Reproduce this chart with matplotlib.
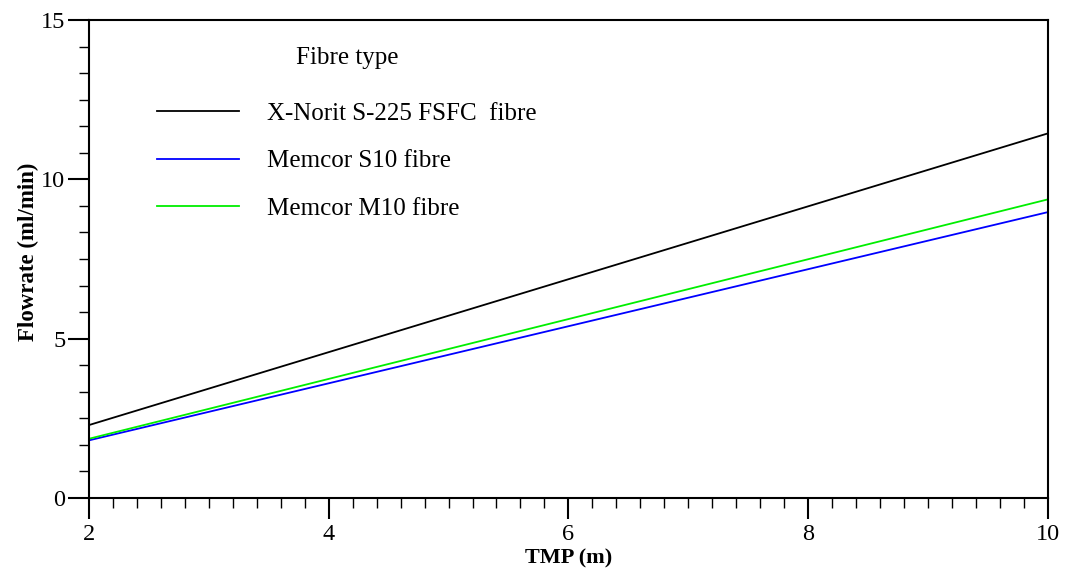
import matplotlib
matplotlib.use("Agg")
import matplotlib.pyplot as plt
from matplotlib.ticker import MultipleLocator

plt.rcParams['font.family'] = ['Liberation Serif', 'DejaVu Serif']

# Flowrate vs TMP, linear fits for each fibre type
tmp = [2, 10]
series_names = ["X-Norit S-225 FSFC  fibre", "Memcor S10 fibre", "Memcor M10 fibre"]
norit_flow = [2.29, 11.44]
memcor_s10_flow = [1.81, 8.97]
memcor_m10_flow = [1.86, 9.37]
colors = ["#000000", "#0000ff", "#00ee00"]

fig = plt.figure(figsize=(10.65, 5.71), dpi=100)
ax = fig.add_axes([0.0836, 0.1278, 0.9002, 0.8372])

for name, ys, c in zip(series_names, [norit_flow, memcor_s10_flow, memcor_m10_flow], colors):
    ax.plot(tmp, ys, color=c, lw=1.3, label=name)

ax.set_xlim(2, 10)
ax.set_ylim(0, 15)
ax.xaxis.set_major_locator(MultipleLocator(2))
ax.xaxis.set_minor_locator(MultipleLocator(0.2))
ax.yaxis.set_major_locator(MultipleLocator(5))
ax.yaxis.set_minor_locator(MultipleLocator(5 / 6))
ax.tick_params(which='major', direction='out', length=15, width=1.5, labelsize=17.5)
ax.tick_params(axis='x', which='major', pad=4)
ax.tick_params(axis='y', which='major', pad=2)
ax.tick_params(which='minor', direction='out', length=7, width=1.0)
for s in ax.spines.values():
    s.set_linewidth(1.5)

ax.set_xlabel("TMP (m)", fontsize=16, fontweight='bold')
ax.set_ylabel("Flowrate (ml/min)", fontsize=16.5, fontweight='bold')
ax.xaxis.set_label_coords(0.5, -0.106)
ax.yaxis.set_label_coords(-0.052, 0.515)

leg = ax.legend(loc='upper left', bbox_to_anchor=(0.0709, 0.943), frameon=False,
                borderaxespad=0, borderpad=0,
                title="Fibre type", fontsize=18, title_fontsize=18,
                handlelength=3.28, handletextpad=1.12, labelspacing=0.99)
leg._legend_box.align = "center"
leg._legend_box.sep = 24

fig.savefig("out.png", dpi=100)
